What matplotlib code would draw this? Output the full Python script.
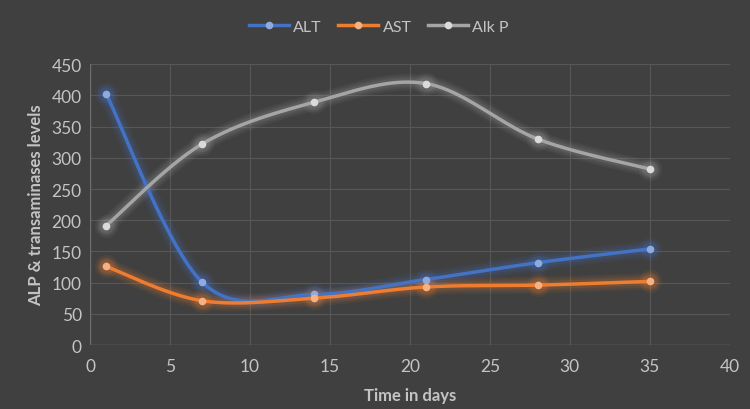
import numpy as np
import matplotlib.pyplot as plt
from matplotlib.lines import Line2D

days = [1, 7, 14, 21, 28, 35]
alt = [403, 101, 81, 105, 132, 154]
ast = [126, 71, 75, 93, 96, 102]
alkp = [191, 322, 389, 419, 330, 282]

names = ["ALT", "AST", "Alk P"]
line_colors = ["#4472C4", "#ED7D31", "#A5A5A5"]
dot_colors = ["#8FAADC", "#F4B183", "#DADADA"]

bg = "#404040"
txt = "#C4C4C4"


def smooth(x, y, n=40):
    # bezier through points, like excel's smoothed line
    x = np.asarray(x, float)
    y = np.asarray(y, float)
    px = np.concatenate([[x[0]], x, [x[-1]]])
    py = np.concatenate([[y[0]], y, [y[-1]]])
    xs, ys = [], []
    t = np.linspace(0, 1, n)
    for i in range(1, len(px) - 2):
        p0 = np.array([px[i], py[i]])
        p3 = np.array([px[i + 1], py[i + 1]])
        c1 = p0 + (np.array([px[i + 1], py[i + 1]]) - np.array([px[i - 1], py[i - 1]])) / 6
        c2 = p3 - (np.array([px[i + 2], py[i + 2]]) - np.array([px[i], py[i]])) / 6
        b = ((1 - t) ** 3)[:, None] * p0 + (3 * (1 - t) ** 2 * t)[:, None] * c1 \
            + (3 * (1 - t) * t ** 2)[:, None] * c2 + (t ** 3)[:, None] * p3
        xs.extend(b[:, 0])
        ys.extend(b[:, 1])
    return xs, ys


plt.rcParams['font.family'] = ['Lato', 'DejaVu Sans']

fig = plt.figure(figsize=(7.5, 4.1), dpi=100, facecolor=bg)
ax = fig.add_axes([0.12, 0.156, 0.853, 0.685], facecolor=bg)

for vals, lc, dc in zip([alt, ast, alkp], line_colors, dot_colors):
    sx, sy = smooth(days, vals)
    # glow
    for w, a in [(12, 0.07), (9, 0.09), (6, 0.13)]:
        ax.plot(sx, sy, color=lc, lw=w, alpha=a, solid_capstyle='round', zorder=2)
        ax.plot(days, vals, 'o', color=lc, ms=w + 5, alpha=a, mec='none', zorder=2)
    ax.plot(sx, sy, color=lc, lw=2.5, solid_capstyle='round', zorder=3)
    ax.plot(days, vals, 'o', color=dc, ms=5.5, mec='none', zorder=4)

ax.set_xlim(0, 40)
ax.set_ylim(0, 450)
ax.set_xticks(range(0, 41, 5))
ax.set_yticks(range(0, 451, 50))
ax.grid(True, color="#575757", lw=0.8)
ax.set_axisbelow(True)
for s in ax.spines.values():
    s.set_visible(False)
ax.axhline(0, color="#6E6E6E", lw=1, zorder=1)
ax.axvline(0, color="#6E6E6E", lw=1, zorder=1)
ax.tick_params(length=0, colors=txt, labelsize=12.5)
ax.tick_params(axis='x', pad=9)
ax.tick_params(axis='y', pad=6)

ax.set_xlabel("Time in days", color=txt, fontsize=12, fontweight='bold', labelpad=10)
ax.set_ylabel("ALP & transaminases levels", color=txt, fontsize=12, fontweight='bold', labelpad=5)

handles = [Line2D([0], [0], color=lc, lw=2.5, marker='o', ms=5.5, mfc=dc, mec='none')
           for lc, dc in zip(line_colors, dot_colors)]
fig.legend(handles, names, loc='center', bbox_to_anchor=(0.505, 0.932), ncol=3,
           frameon=False, fontsize=11.5, labelcolor=txt, handlelength=2.5,
           columnspacing=1.0, handletextpad=0.3)

fig.savefig("out.png", dpi=100, facecolor=bg)
